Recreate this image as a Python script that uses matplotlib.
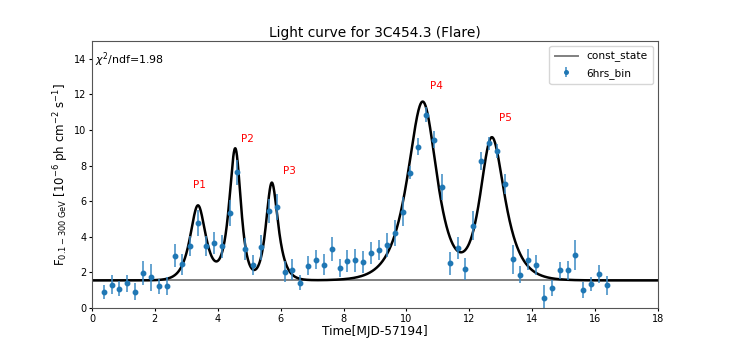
import numpy as np
import matplotlib.pyplot as plt

# 6-hour bins, centres in MJD-57194
time = 0.375 + 0.25 * np.arange(65)
flux = [0.92, 1.32, 1.08, 1.40, 0.92, 1.98, 1.72, 1.21, 1.25, 2.94,
        2.45, 3.47, 4.77, 3.47, 3.66, 3.47, 5.34, 7.62, 3.34, 2.40,
        3.42, 5.45, 5.68, 2.04, 2.15, 1.43, 2.38, 2.72, 2.43, 3.32,
        2.26, 2.64, 2.68, 2.57, 3.10, 3.27, 3.53, 4.23, 5.41, 7.61,
        9.06, 10.85, 9.45, 6.80, 2.52, 3.36, 2.18, 4.62, 8.25, 9.25,
        8.80, 6.97, 2.74, 1.88, 2.71, 2.44, 0.58, 1.11, 2.11, 2.11,
        2.96, 1.01, 1.37, 1.91, 1.27]
flux_err = [0.39, 0.56, 0.42, 0.48, 0.47, 0.67, 0.77, 0.42, 0.50, 0.65,
            0.58, 0.57, 0.72, 0.56, 0.63, 0.64, 0.71, 0.71, 0.62, 0.56,
            0.70, 0.66, 0.71, 0.59, 0.58, 0.42, 0.52, 0.54, 0.58, 0.66,
            0.49, 0.63, 0.66, 0.63, 0.63, 0.57, 0.66, 0.72, 0.80, 0.34,
            0.48, 0.42, 0.47, 0.73, 0.64, 0.62, 0.61, 0.81, 0.50, 0.37,
            0.39, 0.56, 0.82, 0.50, 0.58, 0.56, 0.70, 0.44, 0.50, 0.52,
            0.84, 0.47, 0.39, 0.53, 0.54]

# fitted flare components: peak time, amplitude, rise and decay times
const_state = 1.55
peak_t0 = [3.37, 4.57, 5.70, 10.55, 12.67]
peak_f0 = [4.2, 7.35, 5.45, 10.0, 7.9]
peak_tr = [0.22, 0.18, 0.15, 0.45, 0.30]
peak_td = [0.22, 0.15, 0.19, 0.38, 0.40]
peak_names = ["P1", "P2", "P3", "P4", "P5"]
label_pos = [(3.41, 6.9), (4.93, 9.5), (6.27, 7.7), (10.95, 12.45), (13.14, 10.7)]
chi2_ndf = 1.98


def flare_model(t):
    f = np.full_like(t, const_state)
    for t0, f0, tr, td in zip(peak_t0, peak_f0, peak_tr, peak_td):
        f += 2 * f0 / (np.exp((t0 - t) / tr) + np.exp((t - t0) / td))
    return f


fig = plt.figure(figsize=(7.34, 3.46), dpi=100)
ax = fig.add_axes([0.1253, 0.1098, 0.7712, 0.7717])

tt = np.linspace(0, 18, 2000)
ax.plot([0, 18], [const_state, const_state], color="grey", lw=1.4,
        label="const_state")
ax.plot(tt, flare_model(tt), color="black", lw=1.8)
ax.errorbar(time, flux, yerr=flux_err, fmt="o", ms=3.2, color="#1f77b4",
            ecolor="#3a8ac4", elinewidth=1.1, label="6hrs_bin")

for name, (x, y) in zip(peak_names, label_pos):
    ax.text(x, y, name, color="red", fontsize=7.5, ha="center", va="center")

ax.text(0.006, 0.965, r"$\chi^2$/ndf=%.2f" % chi2_ndf, transform=ax.transAxes,
        fontsize=7.9, ha="left", va="top")

ax.set_xlim(0, 18)
ax.set_ylim(0, 15)
ax.set_xticks(range(0, 19, 2))
ax.set_yticks(range(0, 15, 2))
ax.tick_params(labelsize=7, length=2.5, pad=1.5)
ax.set_title("Light curve for 3C454.3 (Flare)", fontsize=9.9, pad=3)
ax.set_xlabel("Time[MJD-57194]", fontsize=8.7, labelpad=1)
ax.set_ylabel(r"F$_{0.1-300\ \mathrm{GeV}}$ [10$^{-6}$ ph cm$^{-2}$ s$^{-1}$]",
              fontsize=8.5, labelpad=2)
for s in ax.spines.values():
    s.set_color("#555555")
ax.legend(loc="upper right", fontsize=7.6, borderpad=0.5, handlelength=2.2,
          markerscale=0.8)

fig.savefig("out.png", dpi=100)
